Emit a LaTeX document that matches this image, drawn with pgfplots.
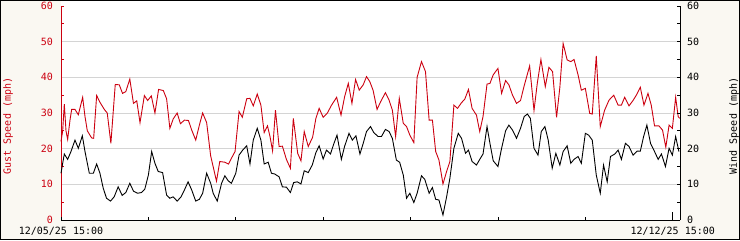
\documentclass[border=0pt]{standalone}
\usepackage{fontspec}
\setmainfont{DejaVu Sans Mono}
\usepackage{pgfplots}
\pgfplotsset{compat=1.18}
\definecolor{gustred}{RGB}{204,0,16}
\definecolor{bgcream}{RGB}{250,248,242}
\definecolor{gridgray}{RGB}{212,212,212}
\begin{document}
\fontsize{10bp}{12bp}\selectfont
\begin{tikzpicture}[x=1bp,y=1bp]
\useasboundingbox (0,0) rectangle (740,240);
\fill[bgcream] (0,0) rectangle (740,240);
\fill[white] (61,20) rectangle (680,239);
\begin{axis}[
  at={(61bp,20bp)}, anchor=south west,
  scale only axis, width=619bp, height=219bp,
  xmin=0, xmax=170, ymin=0, ymax=61.4,
  axis line style={draw=none},
  /pgf/number format/assume math mode=true,
  xtick=\empty,
  ytick={0,10,...,60}, minor ytick={5,15,...,55},
  ytick pos=left, tick align=inside,
  major tick length=3bp, minor tick length=3bp,
  tick style={gustred, line width=0.8bp},
  yticklabel style={gustred, anchor=east, inner sep=0pt, xshift=-8bp, font=\fontsize{10bp}{12bp}\selectfont},
  extra y ticks={10,20,30,40,50},
  extra y tick labels={},
  extra y tick style={grid=major, major tick length=0pt},
  major grid style={gridgray, line width=0.8bp},
  clip=false,
]
\addplot[gustred, line width=0.9bp] coordinates {
(0,22)(0.46,25)(0.91,32.5)(1.37,25)(1.83,22.6)(2.47,28)(2.93,31)(3.84,31)(4.76,29.5)(5.95,34.4)(6.59,29)(7.23,25)(8.42,23)(8.97,22.9)(9.79,34.9)(10.7,33)(11.9,31)(12.7,30)(13.7,21.5)(14.9,38)(16.0,37.9)(16.9,35.5)(17.8,36)(18.9,39.5)(19.9,32.7)(20.8,33.4)(21.7,27.3)(22.9,34.9)(23.8,33.5)(24.8,34.8)(25.8,30)(26.8,36.6)(28.1,36.3)(29.0,34)(29.9,25.7)(30.8,28.3)(31.9,30)(32.8,27)(33.9,28)(35.0,27.9)(35.9,25.2)(37.0,22.4)(38.0,26.6)(38.9,30)(40.0,27.3)(41.1,18)(42.7,10.9)(43.6,16.4)(45.0,16.2)(46.0,15.7)(46.8,17.3)(47.8,19.2)(48.9,30.4)(49.8,28.8)(51.0,34)(51.9,34.1)
(52.8,32)(53.9,35.3)(54.9,32.2)(55.8,24.5)(56.7,26.4)(57.4,23.4)(58.1,19.4)(58.9,30.8)(59.9,20.6)(60.8,20.7)(61.9,17)(63.0,14.5)(63.8,28.5)(65.0,18.7)(65.9,16.6)(66.8,24.8)(67.9,20.6)(69.1,23.2)(70.0,28.5)(70.9,31.3)(72.0,28.8)(73.1,29.9)(74.3,32.2)(75.7,34.4)(76.9,29.4)(77.9,34.6)(78.9,38.3)(79.9,32.7)(80.9,39.4)(81.9,36.4)(83.0,37.9)(83.9,40.2)(84.8,38.8)(85.7,36.4)(86.8,31)(87.8,33.2)(89.1,35.7)(90.1,33.6)(91.0,30.8)(91.9,23.4)(92.9,34.1)(94.0,27.1)(94.9,26.2)(95.8,23.8)(96.9,21.7)(97.8,40)(99.0,44.4)(100.1,41.6)(101.1,28)(102.0,28)(102.9,19.2)(103.8,16.8)(104.9,10.1)(105.9,13.6)(106.8,16.4)(107.9,32.2)(108.9,31.3)(110.0,32.9)(110.9,33.9)(111.9,36.6)(112.9,31.3)(114.1,29.4)(115.0,24.8)(115.9,29)(117.0,38.1)
(117.8,38.3)(118.7,40.7)(120.0,42.5)(121.0,35.5)(122.1,39.1)(123.0,37.9)(124.0,35)(125.1,32.7)(126.2,33.5)(127.2,37.6)(128.7,43.2)(129.9,30.7)(130.8,38.3)(131.8,45)(133.0,37.4)(134.0,42.8)(135.0,41.6)(136.1,28.8)(137.0,37.2)(137.9,49.5)(139.0,44.9)(140.0,44.4)(140.9,45)(142.0,40.7)(142.9,36.4)(144.0,36.9)(145.2,29.9)(145.9,29.7)(147.0,46)(148.1,26.2)(149.3,30.8)(150.5,33.6)(151.8,35)(153.0,32.2)(153.9,32.2)(154.8,34.4)(156.0,32)(157.1,33.5)(158.0,35)(159.1,37.2)(160.1,32.2)(161.2,35.5)(162.1,32.2)(163.0,26.4)(164.2,26.4)(165.2,25.2)(166.1,20.4)(167.0,26.6)(167.9,25.7)(168.8,34.4)(169.5,29)(169.9,28.5)
};
\draw[gustred, line width=0.9bp] (axis cs:0,0) -- (axis cs:0,60);
\end{axis}
\begin{axis}[
  at={(61bp,20bp)}, anchor=south west,
  scale only axis, width=619bp, height=219bp,
  xmin=0, xmax=170, ymin=0, ymax=61.4,
  axis line style={draw=none},
  /pgf/number format/assume math mode=true,
  xtick={0,24,...,168},
  xticklabels={12/05/25 15:00,,,,,,,12/12/25 15:00},
  xtick pos=left,
  extra x ticks={168},
  extra x tick labels={},
  extra x tick style={major tick length=8bp},
  ytick={0,10,...,60}, minor ytick={5,15,...,55},
  ytick pos=right, yticklabel pos=right, tick align=inside,
  major tick length=3bp, minor tick length=3bp,
  tick style={black, line width=0.8bp},
  yticklabel style={black, anchor=west, inner sep=0pt, xshift=7bp, font=\fontsize{10bp}{12bp}\selectfont},
  xticklabel style={black, anchor=north, inner sep=0pt, yshift=-7bp, font=\fontsize{10bp}{12bp}\selectfont},
  clip=false,
]
\addplot[black, line width=0.9bp] coordinates {
(0,13.1)(0.46,15.9)(0.91,18.5)(1.83,17)(2.74,19.2)(3.84,22.4)(4.76,20.1)(5.86,23.6)(6.59,19.2)(7.78,13.1)(8.88,13.1)(9.79,15.7)(10.7,13.1)(11.6,8.9)(12.5,6.1)(13.6,5.3)(14.6,6.5)(15.7,9.3)(16.8,6.9)(17.8,7.7)(18.9,10.3)(19.9,8.1)(21.0,7.5)(22.1,7.7)(23.0,8.6)(24.0,12.6)(24.9,19.2)(25.8,15.9)(26.7,13.6)(27.9,13.3)(29.0,7)(29.9,6.1)(30.8,6.5)(31.9,5.3)(32.9,6.4)(33.8,8.2)(34.9,10.7)(35.9,8.4)(37.0,5.3)(38.0,5.8)(38.9,7.5)(40.0,13.1)(41.1,10.3)(41.8,7.5)(42.9,5.3)(44.1,10.3)(45.0,12.4)(45.9,11)(46.8,10.3)(48.0,13.1)(48.9,18.2)(49.9,19.6)(51.0,20.8)(51.9,15.7)
(52.8,22.4)(53.9,25.7)(54.9,22.4)(55.8,15.7)(56.9,16.2)(57.8,13.1)(58.7,12.9)(59.9,12.1)(60.8,9.3)(61.9,9.2)(63.0,7.7)(63.9,10.5)(64.9,10.7)(65.9,10.1)(66.8,13.8)(67.9,13.3)(69.0,15.4)(70.0,18.9)(70.9,20.8)(72.0,17.1)(72.9,19.6)(74.0,18.5)(74.9,21.3)(75.8,23.8)(77.0,17)(77.9,20.7)(79.1,24.3)(80.0,22.4)(81.0,23.6)(82.1,18.5)(83.0,21.5)(83.9,24.8)(85.0,26.2)(85.9,24.5)(87.1,23.4)(88.0,23.4)(89.1,25.4)(90.1,24.8)(91.0,22.9)(92.1,16.8)(93.0,16.2)(94.0,12.6)(94.9,6.1)(95.8,7.5)(96.9,4.9)(97.8,7.5)(99.0,12.4)(99.9,11.4)(101.1,7.5)(102.0,9.1)(102.9,5.8)(103.8,5.6)(104.9,1.4)(105.9,6.5)(106.8,11.7)(107.9,20.1)(109.1,24.3)(110.0,22.9)(111.1,18.7)(111.9,19.6)(112.9,16.4)(114.1,15.4)(115.0,17)(115.9,18.5)(117.0,26.2)
(117.8,21.5)(118.7,16.6)(120.0,15)(121.0,20.1)(122.1,25)(123.0,26.6)(124.0,25.2)(125.1,22.9)(126.2,25.7)(127.2,29)(128.1,29.7)(128.9,28.5)(129.9,20.1)(131.0,18.2)(131.9,24.8)(132.9,26.2)(133.8,22.4)(134.9,14.5)(135.9,18.7)(137.0,15.4)(137.9,19.2)(139.0,20.8)(140.0,15.9)(140.9,17)(142.0,17.8)(142.9,15.9)(144.0,24.3)(144.9,23.8)(145.9,22.4)(147.0,12.6)(148.1,7.5)(149.0,15.4)(150.0,10.7)(150.9,17.8)(152.1,18.5)(153.0,19.6)(153.9,17)(155.0,21.5)(156.0,20.6)(157.1,18.2)(158.2,19.3)(159.1,19.3)(160.0,23.4)(160.9,26.6)(161.9,21.5)(163.0,19.2)(164.0,17)(164.9,18.5)(166.0,15)(167.0,20.1)(167.9,18.2)(168.8,23.4)(169.7,19.2)
};
\draw[black, line width=0.9bp] (axis cs:0,0) -- (axis cs:170,0);
\draw[black, line width=0.9bp] (axis cs:170,0) -- (axis cs:170,60);
\end{axis}
\node[rotate=90, gustred, inner sep=0pt] at (8,114) {Gust Speed (mph)};
\node[rotate=90, black, inner sep=0pt] at (734,114) {Wind Speed (mph)};
\draw[line width=1bp] (0.5,0.5) rectangle (739.5,239.5);
\end{tikzpicture}
\end{document}
